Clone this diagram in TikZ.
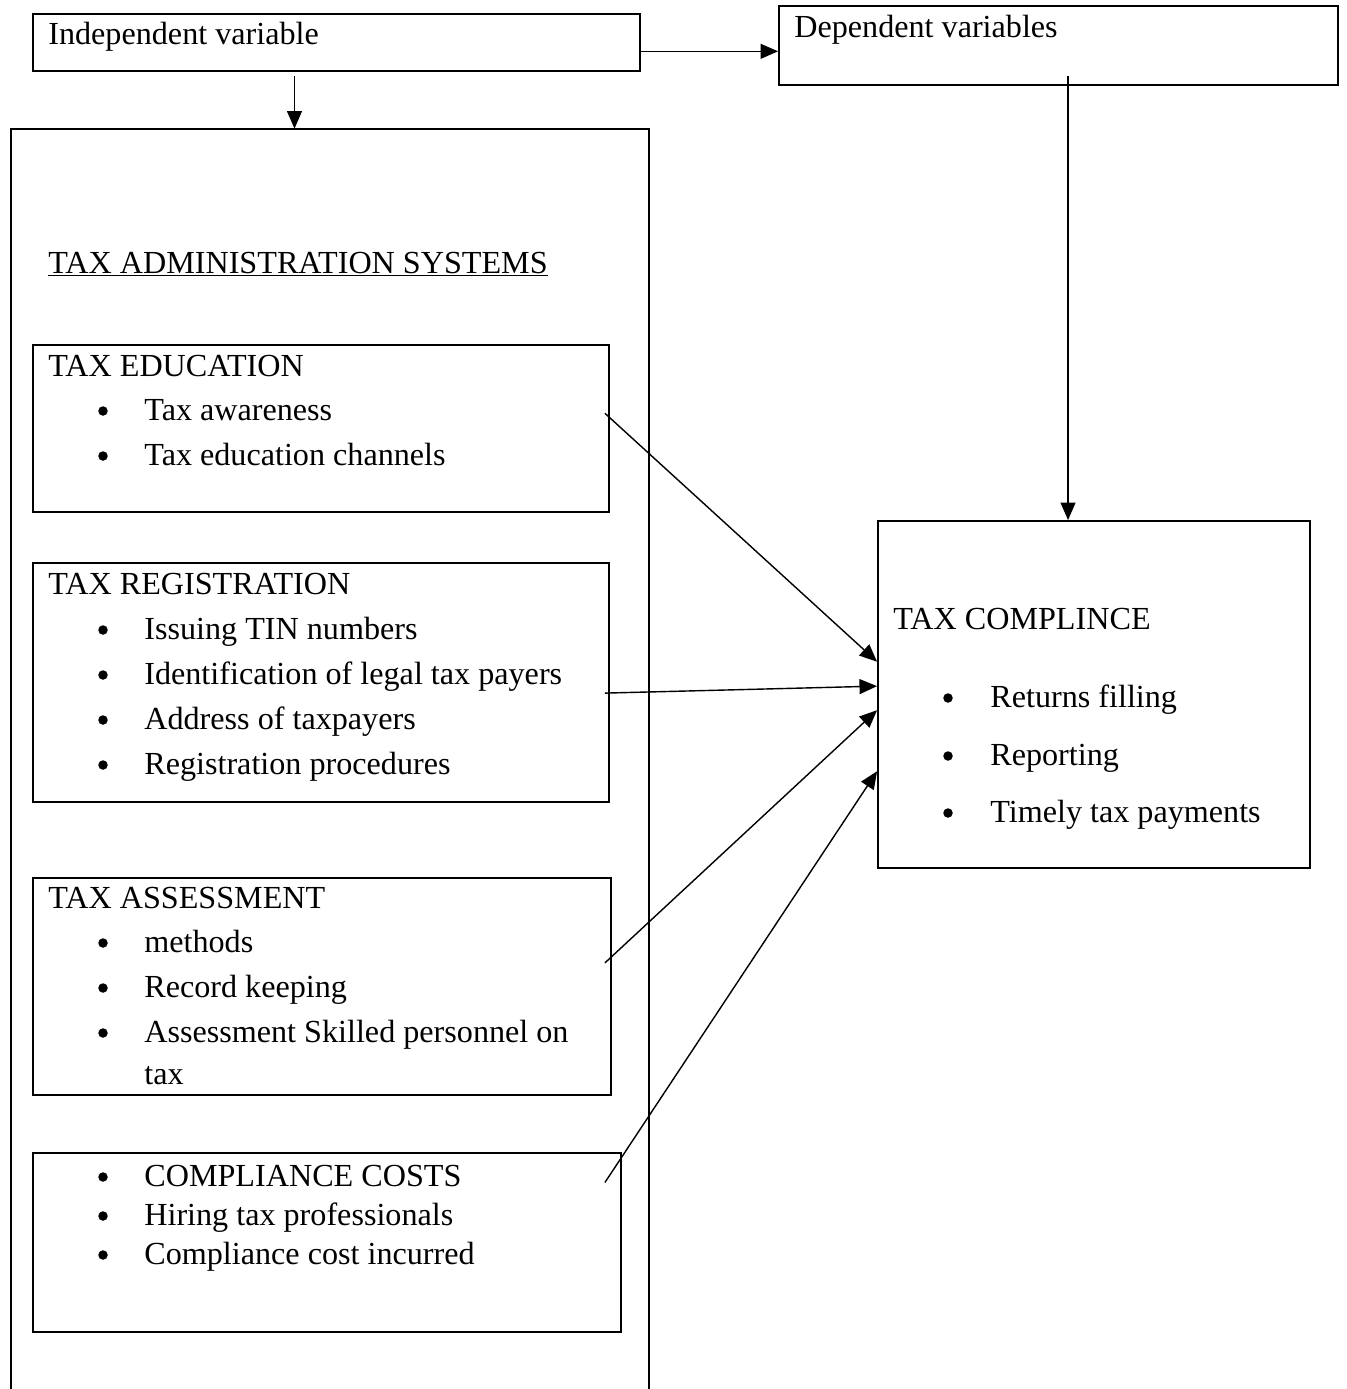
\documentclass[tikz,border=0pt]{standalone}
\usepackage{fontspec}
\setmainfont{Liberation Serif}
\usetikzlibrary{arrows.meta,fit,calc}
\begin{document}
\begin{tikzpicture}[x=0.02cm,y=-0.02cm,
  box/.style={draw, line width=1.05pt, inner sep=0pt},
  frame/.style={inner sep=0pt},
  txt/.style={anchor=base west, inner sep=0pt, font=\fontsize{18.3}{22}\selectfont},
  bul/.style={circle, fill, inner sep=0pt, minimum size=0.19cm},
  arr/.style={line width=0.8pt, -{Triangle[length=10pt,width=8.5pt]}}]
\useasboundingbox (0,0) rectangle (1346,1389);

% boxes
\node[box, fit={(33,14) (640,71)}] (indep) {};
\node[box, fit={(779,6) (1338,85)}] (dep) {};
\node[frame, fit={(11,129) (649,1389)}] (admin) {};
\draw[line width=1.05pt] (admin.south west) -- (admin.north west) -- (admin.north east) -- (admin.south east);
\node[box, fit={(33,345) (609,512)}] (edu) {};
\node[box, fit={(33,563) (609,802)}] (reg) {};
\node[box, fit={(33,878) (611,1095)}] (ass) {};
\node[box, fit={(33,1153) (621,1332)}] (cost) {};
\node[box, fit={(878,521) (1310,868)}] (comp) {};

% texts
\node[txt] (tindep) at (48,45) {Independent variable};
\node[txt] (tdep) at (794,38) {Dependent variables};
\node[txt] (tadmin) at (48,273) {\underline{TAX ADMINISTRATION SYSTEMS}};

\node[txt] (tedu) at (48,376) {TAX EDUCATION};
\node[bul] (be1) at (103,411) {};
\node[txt] (te1) at (144,420) {Tax awareness};
\node[bul] (be2) at (103,456) {};
\node[txt] (te2) at (144,465) {Tax education channels};

\node[txt] (treg) at (48,594) {TAX REGISTRATION};
\node[bul] (br1) at (103,630) {};
\node[txt] (tr1) at (144,639) {Issuing TIN numbers};
\node[bul] (br2) at (103,675) {};
\node[txt] (tr2) at (144,684) {Identification of legal tax payers};
\node[bul] (br3) at (103,720) {};
\node[txt] (tr3) at (144,729) {Address of taxpayers};
\node[bul] (br4) at (103,765) {};
\node[txt] (tr4) at (144,774) {Registration procedures};

\node[txt] (tass) at (48,908) {TAX ASSESSMENT};
\node[bul] (ba1) at (103,943) {};
\node[txt] (ta1) at (144,952) {methods};
\node[bul] (ba2) at (103,988) {};
\node[txt] (ta2) at (144,997) {Record keeping};
\node[bul] (ba3) at (103,1033) {};
\node[txt] (ta3) at (144,1042) {Assessment Skilled personnel on};
\node[txt] (ta4) at (144,1084) {tax};

\node[bul] (bc1) at (103,1177) {};
\node[txt] (tc1) at (144,1186) {COMPLIANCE COSTS};
\node[bul] (bc2) at (103,1216) {};
\node[txt] (tc2) at (144,1225) {Hiring tax professionals};
\node[bul] (bc3) at (103,1255) {};
\node[txt] (tc3) at (144,1264) {Compliance cost incurred};

\node[txt] (tcomp) at (893,629) {TAX COMPLINCE};
\node[bul] (bk1) at (948,698) {};
\node[txt] (tk1) at (990,707) {Returns filling};
\node[bul] (bk2) at (948,756) {};
\node[txt] (tk2) at (990,765) {Reporting};
\node[bul] (bk3) at (948,813) {};
\node[txt] (tk3) at (990,822) {Timely tax payments};

% connectors
\coordinate (s1) at ($(indep.north east)!0.65!(indep.south east)$);
\draw[arr] (s1) -- (s1 -| dep.west);
\coordinate (s2) at ($(indep.south west)!0.431!(indep.south east)$);
\draw[arr] ([yshift=-4*0.02cm]s2) -- (s2 |- admin.north);
\coordinate (s3) at ($(dep.south west)!0.517!(dep.south east)$);
\draw[arr] ([yshift=10*0.02cm]s3) -- (s3 |- comp.north);

\coordinate (e1) at ($(edu.north east)!0.41!(edu.south east)$);
\coordinate (e2) at ($(reg.north east)!0.544!(reg.south east)$);
\coordinate (e3) at ($(ass.north east)!0.392!(ass.south east)$);
\coordinate (e4) at ($(cost.north east)!0.168!(cost.south east)$);
\draw[arr] ([xshift=-5*0.02cm]e1) -- ($(comp.north west)!0.406!(comp.south west)$);
\draw[arr] ([xshift=-5*0.02cm]e2) -- ($(comp.north west)!0.476!(comp.south west)$);
\draw[arr] ([xshift=-7*0.02cm]e3) -- ($(comp.north west)!0.545!(comp.south west)$);
\draw[arr] ([xshift=-17*0.02cm]e4) -- ($(comp.north west)!0.72!(comp.south west)$);
\end{tikzpicture}
\end{document}
